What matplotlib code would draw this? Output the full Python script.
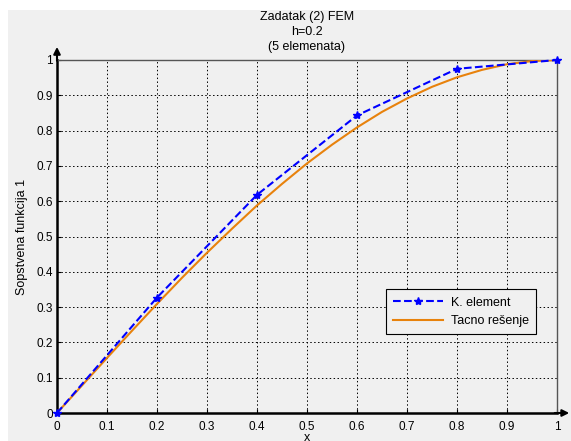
import matplotlib.pyplot as plt
from matplotlib.patches import Rectangle

DPI = 100
width, height = 571, 441

# FEM solution (5 elements)
x_fem = [0.0, 0.2, 0.4, 0.6, 0.8, 1.0]
y_fem = [0.0, 0.327, 0.618, 0.843, 0.975, 1.0]

# exact solution
x_exact = [0.0, 0.05, 0.1, 0.15, 0.2, 0.25, 0.3, 0.35, 0.4, 0.45, 0.5,
           0.55, 0.6, 0.65, 0.7, 0.75, 0.8, 0.85, 0.9, 0.95, 1.0]
y_exact = [0.0, 0.078, 0.156, 0.233, 0.309, 0.383, 0.454, 0.522, 0.588, 0.649, 0.707,
           0.760, 0.809, 0.853, 0.891, 0.924, 0.951, 0.972, 0.988, 0.997, 1.0]

xticks = [0, 0.1, 0.2, 0.3, 0.4, 0.5, 0.6, 0.7, 0.8, 0.9, 1]
yticks = [0, 0.1, 0.2, 0.3, 0.4, 0.5, 0.6, 0.7, 0.8, 0.9, 1]
tick_labels = ['0', '0.1', '0.2', '0.3', '0.4', '0.5', '0.6', '0.7', '0.8', '0.9', '1']

plt.rcParams['font.family'] = ['Liberation Sans', 'DejaVu Sans']
bg = '#f0f0f0'

fig = plt.figure(figsize=(width/DPI, height/DPI), dpi=DPI, facecolor='white')
fig.patches.append(Rectangle((8/width, 0), 1, 1 - 10/height, transform=fig.transFigure,
                             facecolor=bg, edgecolor='none', zorder=-10))

ax = fig.add_axes([57/width, 28/height, 500/width, 353/height])
ax.set_facecolor(bg)
ax.set_xlim(0, 1)
ax.set_ylim(0, 1)

ax.plot(x_exact, y_exact, color='#e8820c', lw=1.5, label='Tacno rešenje', zorder=3)
ax.plot(x_fem, y_fem, color='#0000ff', ls='--', lw=1.5, marker='*', ms=6,
        label='K. element', zorder=4, clip_on=False)

ax.set_xticks(xticks)
ax.set_xticklabels(tick_labels)
ax.set_yticks(yticks)
ax.set_yticklabels(tick_labels)
ax.tick_params(direction='in', length=3, labelsize=8.5, colors='black')
ax.tick_params(axis='x', pad=6)
ax.tick_params(axis='y', pad=3)
ax.grid(True, color='black', ls=(0, (1.5, 2.5)), lw=0.7)

for s in ['top', 'right']:
    ax.spines[s].set_color('#555555')
    ax.spines[s].set_linewidth(1.0)
for s in ['left', 'bottom']:
    ax.spines[s].set_linewidth(1.8)

# axis arrows
ax.annotate('', xy=(0, 1.045), xytext=(0, 0.99), xycoords='axes fraction',
            arrowprops=dict(arrowstyle='-|>', color='black', lw=1.5, mutation_scale=10))
ax.annotate('', xy=(1.03, 0), xytext=(0.99, 0), xycoords='axes fraction',
            arrowprops=dict(arrowstyle='-|>', color='black', lw=1.5, mutation_scale=10))

ax.set_title('Zadatak (2) FEM\nh=0.2\n(5 elemenata)', fontsize=9, linespacing=1.35, pad=7)
ax.set_xlabel('x', fontsize=9, labelpad=-1)
ax.set_ylabel('Sopstvena funkcija 1', fontsize=9, labelpad=6)

handles, labels = ax.get_legend_handles_labels()
leg = ax.legend(handles[::-1], labels[::-1], loc='lower left', bbox_to_anchor=(0.645, 0.205),
                fontsize=9, fancybox=False, framealpha=1, facecolor=bg,
                edgecolor='black', borderpad=0.6, handlelength=4, handletextpad=0.6)
leg.get_frame().set_linewidth(0.8)

plt.savefig('out.png', dpi=DPI, facecolor=fig.get_facecolor())
